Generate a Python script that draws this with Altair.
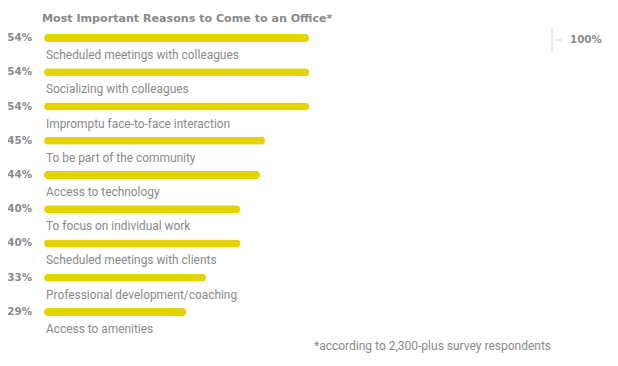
import altair as alt
import pandas as pd

reasons = [
    "Scheduled meetings with colleagues",
    "Socializing with colleagues",
    "Impromptu face-to-face interaction",
    "To be part of the community",
    "Access to technology",
    "To focus on individual work",
    "Scheduled meetings with clients",
    "Professional development/coaching",
    "Access to amenities",
]
values = [54, 54, 54, 45, 44, 40, 40, 33, 29]
title_text = "Most Important Reasons to Come to an Office*"
footnote_text = "*according to 2,300-plus survey respondents"
marker_text = "100%"

df = pd.DataFrame({"reason": reasons, "value": values})
df["pct"] = df["value"].astype(str) + "%"

FONT = "Roboto"
BOLD_FONT = "DejaVu Sans"
GRAY = "#8a8a8a"
YELLOW = "#e3d300"

xs = alt.Scale(domain=[0, 114])
ys = alt.Scale(domain=reasons, paddingInner=0, paddingOuter=0)

base = alt.Chart(df)

bars = base.mark_bar(color=YELLOW, size=8, cornerRadius=4).encode(
    x=alt.X("value:Q", scale=xs, axis=None),
    y=alt.Y("reason:N", scale=ys, axis=None, sort=None),
)

labels = base.mark_text(align="left", baseline="middle", dx=2, dy=17,
                        font=FONT, fontSize=11.9, color=GRAY).encode(
    x=alt.value(0),
    y=alt.Y("reason:N", scale=ys, axis=None, sort=None),
    text="reason:N",
)

pcts = base.mark_text(align="right", baseline="middle",
                      font=BOLD_FONT, fontSize=10.3, fontWeight="bold", color=GRAY).encode(
    x=alt.value(-12),
    y=alt.Y("reason:N", scale=ys, axis=None, sort=None),
    text="pct:N",
)

title = alt.Chart(pd.DataFrame({"t": [title_text]})).mark_text(
    align="left", baseline="middle", font=BOLD_FONT, fontSize=11.1,
    fontWeight="bold", color=GRAY).encode(
    x=alt.value(-2), y=alt.value(-2), text="t:N")

footnote = alt.Chart(pd.DataFrame({"t": [footnote_text]})).mark_text(
    align="left", baseline="middle", font=FONT, fontSize=12, color=GRAY).encode(
    x=alt.value(270), y=alt.value(325), text="t:N")

vline = alt.Chart(pd.DataFrame({"a": [0]})).mark_rule(color="#d5d5d5", strokeWidth=1).encode(
    x=alt.value(508), y=alt.value(7), y2=alt.value(31))
hline = alt.Chart(pd.DataFrame({"a": [0]})).mark_rule(color="#d5d5d5", strokeWidth=1).encode(
    x=alt.value(511), x2=alt.value(518), y=alt.value(19))
marker = alt.Chart(pd.DataFrame({"t": [marker_text]})).mark_text(
    align="left", baseline="middle", font=BOLD_FONT, fontSize=10.3,
    fontWeight="bold", color=GRAY).encode(
    x=alt.value(526), y=alt.value(19), text="t:N")

chart = alt.layer(bars, labels, pcts, title, footnote, vline, hline, marker).properties(
    width=560, height=308,
    background="white",
    autosize=alt.AutoSizeParams(type="none"),
    padding={"left": 36, "top": 13, "right": 6, "bottom": 29},
).configure_view(stroke=None)

chart.save("out.html", embed_options={"renderer": "svg", "actions": False})
